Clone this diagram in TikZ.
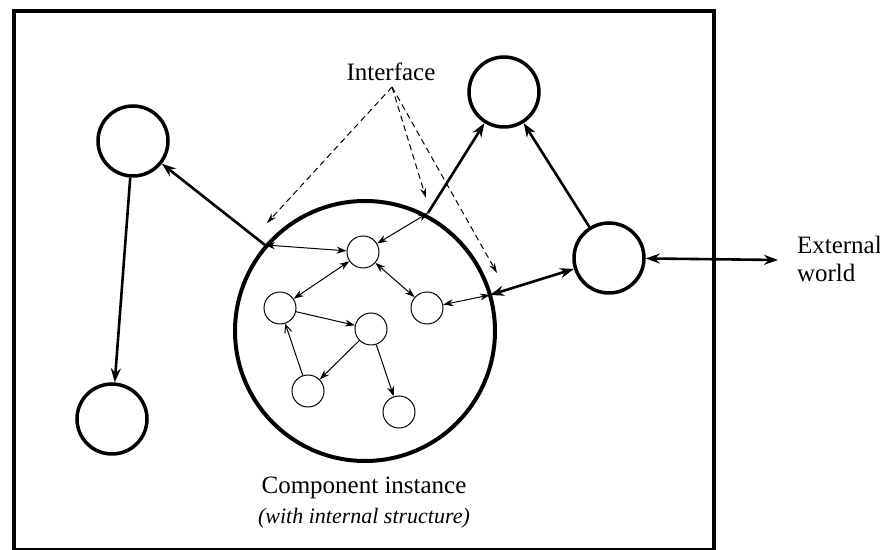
\documentclass[tikz,border=0pt]{standalone}
\usepackage{fontspec}
\setmainfont{Liberation Serif}
\usetikzlibrary{arrows.meta}
\begin{document}
\begin{tikzpicture}[x=0.5pt,y=-0.5pt,
  bigc/.style={circle,draw,line width=1.75pt,minimum size=35pt,inner sep=0pt},
  smallc/.style={circle,draw,line width=0.5pt,minimum size=16pt,inner sep=0pt},
  comp/.style={circle,draw,line width=2pt,minimum size=130pt,inner sep=0pt},
  thickarr/.style={line width=1.3pt,-{Stealth[length=7pt,width=5pt]}},
  thickdbl/.style={line width=1.3pt,{Stealth[length=7pt,width=5pt]}-{Stealth[length=7pt,width=5pt]}},
  thinarr/.style={line width=0.5pt,-{Stealth[length=5pt,width=3.5pt]}},
  thinopen/.style={line width=0.5pt,-{Straight Barb[length=4pt,width=3.5pt]}},
  thindbl/.style={line width=0.5pt,{Stealth[length=5pt,width=3.5pt]}-{Stealth[length=5pt,width=3.5pt]}},
  dasharr/.style={line width=0.5pt,dash pattern=on 3pt off 2pt,-{Stealth[length=5pt,width=3pt]}},
  lbl/.style={font=\fontsize{12.5}{14}\selectfont},
  sublbl/.style={font=\fontsize{11}{13}\selectfont\itshape}
]
\useasboundingbox (0,0) rectangle (880,550);
% frame
\draw[line width=2pt] (14,550) -- (14,11) -- (714,11) -- (714,550) -- cycle;

% component instance
\node[comp] (comp) at (365,331) {};
\node[smallc] (A) at (363,252) {};
\node[smallc] (B) at (280,308) {};
\node[smallc] (C) at (427,308) {};
\node[smallc] (D) at (371,329) {};
\node[smallc] (E) at (308,391) {};
\node[smallc] (F) at (399,412) {};

% outer components
\node[bigc] (tl) at (133,141) {};
\node[bigc] (bl) at (112,419) {};
\node[bigc] (tr) at (504,92) {};
\node[bigc] (rc) at (609,258) {};

% interface points
\coordinate (P1) at (265,245);
\coordinate (P2) at (428,213);
\coordinate (P3) at (490,295);
\coordinate (ext) at (778,260);

% labels
\node[lbl] (intf) at (391,72) {Interface};
\node[lbl,anchor=west,align=left] (extl) at (790,259) {External\\world};
\node[lbl] (cil) at (364,488) {Component instance};
\node[sublbl] (cis) at (364,518) {(with internal structure)};

% dashed interface pointers
\coordinate (I0) at (392,87);
\coordinate (T1) at (267,223);
\coordinate (T2) at (426,198);
\coordinate (T3) at (497,273);
\draw[dasharr] (I0) -- (T1);
\draw[dasharr] (I0) -- (T2);
\draw[dasharr] (I0) -- (T3);

% thick connectors
\draw[thickarr] (P1) -- (tl);
\draw[thickarr] (tl) -- (bl);
\draw[thickarr] (P2) -- (tr);
\draw[thickarr] (rc) -- (tr);
\draw[thickdbl] (P3) -- (rc);
\draw[thickdbl] (rc) -- (ext);

% internal connectors
\draw[thindbl] (P1) -- (A);
\draw[thindbl] (P2) -- (A);
\draw[thindbl] (A) -- (B);
\draw[thindbl] (A) -- (C);
\draw[thindbl] (P3) -- (C);
\draw[thinarr] (B) -- (D);
\draw[thinarr] (D) -- (E);
\draw[thinarr] (D) -- (F);
\draw[thinopen] (E) -- (B);
\end{tikzpicture}
\end{document}
